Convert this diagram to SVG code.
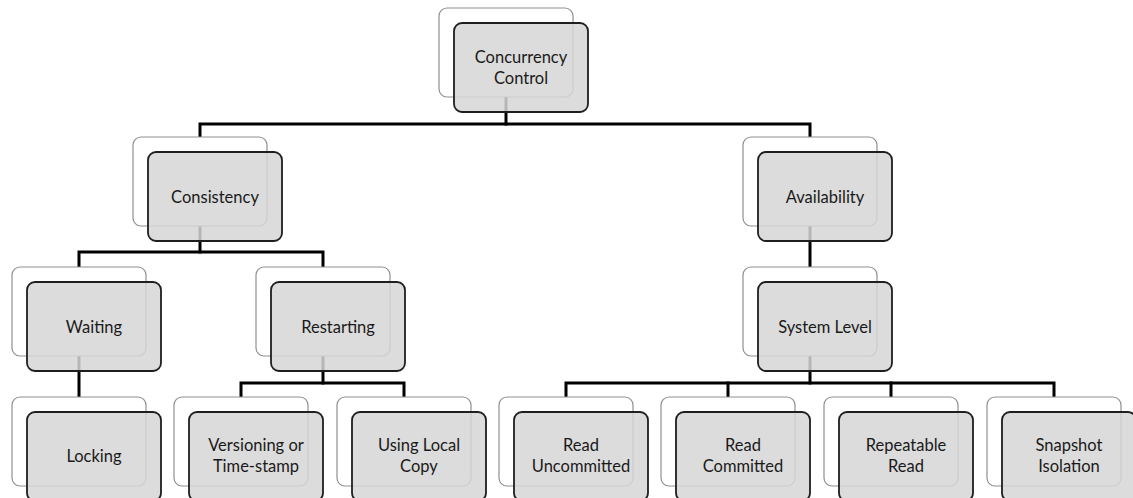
<svg xmlns="http://www.w3.org/2000/svg" width="1133" height="498" viewBox="0 0 1133 498">
<style>
.bk{fill:#ffffff;stroke:#8f8f8f;stroke-width:1.2}
.fr{fill:#d6d6d6;fill-opacity:0.85;stroke:#1e1e1e;stroke-width:1.8}
.t{font-family:Lato,"Open Sans","Liberation Sans",sans-serif;font-size:16.5px;fill:#1a1a1a;text-anchor:middle;dominant-baseline:central}
.c{fill:none;stroke:#000;stroke-width:3;stroke-linecap:square;stroke-linejoin:miter}
</style>
<rect width="1133" height="498" fill="#ffffff"/>
<g id="connectors" class="c">
<path d="M506,97 V124"/>
<path d="M200,137 V124 H810 V137"/>
<path d="M200,226 V252"/>
<path d="M79,267 V252 H323 V267"/>
<path d="M810,226 V267"/>
<path d="M79,356 V397"/>
<path d="M323,356 V383"/>
<path d="M241,397 V383 H404 V397"/>
<path d="M810,356 V383"/>
<path d="M566,397 V383 H1054 V397"/>
<path d="M728,383 V397"/>
<path d="M891,383 V397"/>
</g>
<g id="n-concurrency">
<rect class="bk" x="439" y="8" width="134" height="89" rx="8"/>
<rect class="fr" x="454" y="23" width="134" height="89" rx="8"/>
<text class="t" x="521" y="57">Concurrency</text>
<text class="t" x="521" y="78">Control</text>
</g>
<g id="n-consistency">
<rect class="bk" x="133" y="137" width="134" height="89" rx="8"/>
<rect class="fr" x="148" y="152" width="134" height="89" rx="8"/>
<text class="t" x="215" y="197">Consistency</text>
</g>
<g id="n-availability">
<rect class="bk" x="743" y="137" width="134" height="89" rx="8"/>
<rect class="fr" x="758" y="152" width="134" height="89" rx="8"/>
<text class="t" x="825" y="197">Availability</text>
</g>
<g id="n-waiting">
<rect class="bk" x="12" y="267" width="134" height="89" rx="8"/>
<rect class="fr" x="27" y="282" width="134" height="89" rx="8"/>
<text class="t" x="94" y="327">Waiting</text>
</g>
<g id="n-restarting">
<rect class="bk" x="256" y="267" width="134" height="89" rx="8"/>
<rect class="fr" x="271" y="282" width="134" height="89" rx="8"/>
<text class="t" x="338" y="327">Restarting</text>
</g>
<g id="n-systemlevel">
<rect class="bk" x="743" y="267" width="134" height="89" rx="8"/>
<rect class="fr" x="758" y="282" width="134" height="89" rx="8"/>
<text class="t" x="825" y="327">System Level</text>
</g>
<g id="n-locking">
<rect class="bk" x="12" y="397" width="134" height="89" rx="8"/>
<rect class="fr" x="27" y="412" width="134" height="89" rx="8"/>
<text class="t" x="94" y="456">Locking</text>
</g>
<g id="n-versioning">
<rect class="bk" x="174" y="397" width="134" height="89" rx="8"/>
<rect class="fr" x="189" y="412" width="134" height="89" rx="8"/>
<text class="t" x="256" y="445">Versioning or</text>
<text class="t" x="256" y="466">Time-stamp</text>
</g>
<g id="n-localcopy">
<rect class="bk" x="337" y="397" width="134" height="89" rx="8"/>
<rect class="fr" x="352" y="412" width="134" height="89" rx="8"/>
<text class="t" x="419" y="445">Using Local</text>
<text class="t" x="419" y="466">Copy</text>
</g>
<g id="n-readuncommitted">
<rect class="bk" x="499" y="397" width="134" height="89" rx="8"/>
<rect class="fr" x="514" y="412" width="134" height="89" rx="8"/>
<text class="t" x="581" y="445">Read</text>
<text class="t" x="581" y="466">Uncommitted</text>
</g>
<g id="n-readcommitted">
<rect class="bk" x="661" y="397" width="134" height="89" rx="8"/>
<rect class="fr" x="676" y="412" width="134" height="89" rx="8"/>
<text class="t" x="743" y="445">Read</text>
<text class="t" x="743" y="466">Committed</text>
</g>
<g id="n-repeatableread">
<rect class="bk" x="824" y="397" width="134" height="89" rx="8"/>
<rect class="fr" x="839" y="412" width="134" height="89" rx="8"/>
<text class="t" x="906" y="445">Repeatable</text>
<text class="t" x="906" y="466">Read</text>
</g>
<g id="n-snapshot">
<rect class="bk" x="987" y="397" width="134" height="89" rx="8"/>
<rect class="fr" x="1002" y="412" width="134" height="89" rx="8"/>
<text class="t" x="1069" y="445">Snapshot</text>
<text class="t" x="1069" y="466">Isolation</text>
</g>
</svg>
